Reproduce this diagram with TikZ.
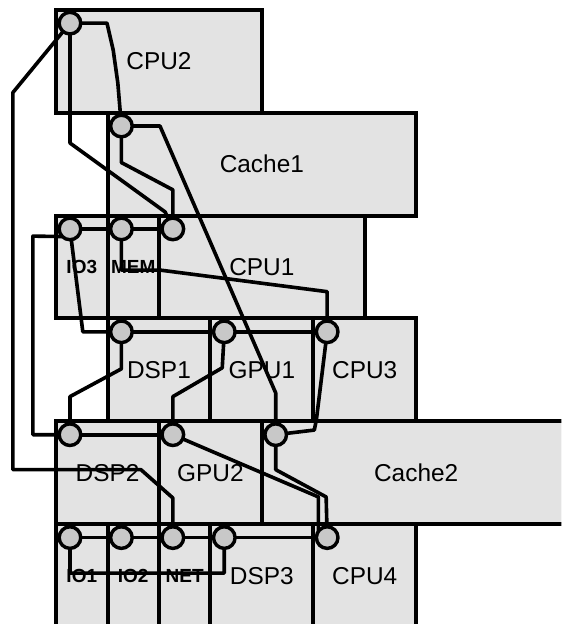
\documentclass[tikz,border=0pt]{standalone}
\usepackage{fontspec}
\setmainfont{Liberation Sans}
\usetikzlibrary{positioning}
\pgfdeclarelayer{front}
\pgfsetlayers{main,front}

\definecolor{blkfill}{RGB}{227,227,227}
\definecolor{portfill}{RGB}{200,200,200}

\begin{document}
\begin{tikzpicture}[
  blk/.style={draw,rectangle,fill=blkfill,line width=2.2pt,minimum height=2cm,inner sep=0pt,outer sep=0pt,anchor=north west,font=\fontsize{13.5}{15}\selectfont},
  small/.style={font=\fontsize{10.5}{12}\selectfont\bfseries},
  port/.style={draw,circle,fill=portfill,line width=1.9pt,minimum size=0.42cm,inner sep=0pt,outer sep=0pt},
  wire/.style={line width=2pt,line join=round}
]
\useasboundingbox (-1.09,0.19) rectangle (9.82,-11.94);
\clip (-1.09,0.19) rectangle (9.82,-11.94);

% blocks, row by row
\node[blk,minimum width=4cm] (cpu2) at (0,0) {CPU2};
\node[blk,minimum width=6cm] (cache1) at (1,-2) {Cache1};

\node[blk,small,minimum width=1cm] (io3) at (0,-4) {IO3};
\node[blk,small,minimum width=1cm,right=0pt of io3] (mem) {MEM};
\node[blk,minimum width=4cm,right=0pt of mem] (cpu1) {CPU1};

\node[blk,minimum width=2cm] (dsp1) at (1,-6) {DSP1};
\node[blk,minimum width=2cm,right=0pt of dsp1] (gpu1) {GPU1};
\node[blk,minimum width=2cm,right=0pt of gpu1] (cpu3) {CPU3};

\node[blk,minimum width=2cm] (dsp2) at (0,-8) {DSP2};
\node[blk,minimum width=2cm,right=0pt of dsp2] (gpu2) {GPU2};
\node[blk,minimum width=6cm,right=0pt of gpu2] (cache2) {Cache2};

\node[blk,small,minimum width=1cm] (io1) at (0,-10) {IO1};
\node[blk,small,minimum width=1cm,right=0pt of io1] (io2) {IO2};
\node[blk,small,minimum width=1cm,right=0pt of io2] (net) {NET};
\node[blk,minimum width=2cm,right=0pt of net] (dsp3) {DSP3};
\node[blk,minimum width=2cm,right=0pt of dsp3] (cpu4) {CPU4};

% ports sit on top of the wires
\begin{pgfonlayer}{front}
\node[port] (pcpu2) at ([shift={(0.27,-0.26)}]cpu2.north west) {};
\node[port] (pcache1) at ([shift={(0.27,-0.26)}]cache1.north west) {};
\node[port] (pio3) at ([shift={(0.27,-0.26)}]io3.north west) {};
\node[port] (pmem) at ([shift={(0.27,-0.26)}]mem.north west) {};
\node[port] (pcpu1) at ([shift={(0.27,-0.26)}]cpu1.north west) {};
\node[port] (pdsp1) at ([shift={(0.27,-0.26)}]dsp1.north west) {};
\node[port] (pgpu1) at ([shift={(0.27,-0.26)}]gpu1.north west) {};
\node[port] (pcpu3) at ([shift={(0.27,-0.26)}]cpu3.north west) {};
\node[port] (pdsp2) at ([shift={(0.27,-0.26)}]dsp2.north west) {};
\node[port] (pgpu2) at ([shift={(0.27,-0.26)}]gpu2.north west) {};
\node[port] (pcache2) at ([shift={(0.27,-0.26)}]cache2.north west) {};
\node[port] (pio1) at ([shift={(0.27,-0.26)}]io1.north west) {};
\node[port] (pio2) at ([shift={(0.27,-0.26)}]io2.north west) {};
\node[port] (pnet) at ([shift={(0.27,-0.26)}]net.north west) {};
\node[port] (pdsp3) at ([shift={(0.27,-0.26)}]dsp3.north west) {};
\node[port] (pcpu4) at ([shift={(0.27,-0.26)}]cpu4.north west) {};
\end{pgfonlayer}

% wires from CPU2
\draw[wire] (pcpu2) -- (0.99,-0.26) -- (1.11,-0.78) -- (1.2,-1.42) -- (pcache1);
\draw[wire] (pcpu2) -- (0.27,-2.59) -- (2.12,-3.93) -- (pcpu1);
\draw[wire] (pcpu2) -- (-0.84,-1.61) -- (-0.84,-8.94) -- (1.65,-8.94) -- (2.27,-9.49) -- (pnet);

% wires from Cache1
\draw[wire] (pcache1) -- (2.02,-2.26) -- (4.27,-7.45) -- (pcache2);
\draw[wire] (pcache1) -- (1.27,-2.97) -- (2.27,-3.5) -- (pcpu1);

% CPU1 row
\draw[wire] (pio3) -- (pmem) -- (pcpu1);
\draw[wire] (pio3.south west) -- (-0.45,-4.40) -- (-0.45,-8.26) -- (pdsp2);
\draw[wire] (pio3) -- (0.52,-6.26) -- (pdsp1);
\draw[wire] (pmem) -- (1.27,-5.06) -- (2.02,-5.06) -- (5.27,-5.48) -- (pcpu3);

% DSP1 row
\draw[wire] (pdsp1) -- (pgpu1) -- (pcpu3);
\draw[wire] (pdsp1) -- (1.27,-6.98) -- (0.27,-7.52) -- (pdsp2);
\draw[wire] (pgpu1) -- (3.23,-6.96) -- (2.27,-7.52) -- (pgpu2);
\draw[wire] (pcpu3) -- (5.06,-7.97) -- (5.02,-8.17) -- (pcache2);

% DSP2 row
\draw[wire] (pdsp2) -- (pgpu2);
\draw[wire] (pgpu2) -- (5.1,-9.47) |- (pcpu4);
\draw[wire] (pcache2) -- (4.27,-8.94) -- (5.25,-9.47) -- (pcpu4);

% bottom row
\draw[wire] (pio1) -- (pio2) -- (pnet) -- (pdsp3) -- (pcpu4);
\draw[wire] (pio1) -- (0.27,-10.95) -- (3.27,-10.95) -- (pdsp3);

\end{tikzpicture}
\end{document}
